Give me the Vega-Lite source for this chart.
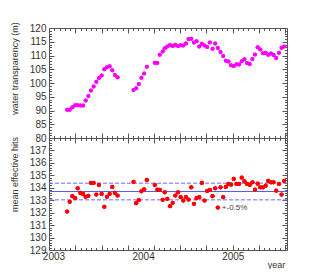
{
  "$schema": "https://vega.github.io/schema/vega-lite/v6.json",
  "autosize": {"type": "pad"},
  "padding": {"left": 9, "top": 21, "right": 0, "bottom": 0},
  "background": "white",
  "config": {
    "view": {"stroke": null},
    "axis": {"grid": false, "domainColor": "#555", "tickColor": "#555", "labelFont": "Liberation Sans", "labelFontSize": 10, "labelColor": "#333", "titleFont": "Liberation Sans", "titleFontSize": 9, "titleFontWeight": "normal", "titleColor": "#333", "labelOverlap": false, "labelBound": false, "labelFlush": false}
  },
  "spacing": 0,
  "bounds": "flush",
  "datasets": {
    "obs": [
      {"year": 2003.152, "transparency": 90.3, "hits": 132.09},
      {"year": 2003.181, "transparency": 90.3, "hits": 132.87},
      {"year": 2003.211, "transparency": 91.2, "hits": 133.32},
      {"year": 2003.241, "transparency": 91.9, "hits": 133.16},
      {"year": 2003.270, "transparency": 91.9, "hits": 133.96},
      {"year": 2003.300, "transparency": 91.8, "hits": 133.59},
      {"year": 2003.330, "transparency": 91.8, "hits": 133.51},
      {"year": 2003.359, "transparency": 93.6, "hits": 133.27},
      {"year": 2003.389, "transparency": 95.3, "hits": 133.35},
      {"year": 2003.418, "transparency": 97.3, "hits": 134.39},
      {"year": 2003.448, "transparency": 98.7, "hits": 134.39},
      {"year": 2003.478, "transparency": 100.5, "hits": 133.45},
      {"year": 2003.507, "transparency": 101.8, "hits": 134.23},
      {"year": 2003.537, "transparency": 102.7, "hits": 133.51},
      {"year": 2003.567, "transparency": 105.0, "hits": 132.47},
      {"year": 2003.596, "transparency": 105.7, "hits": 133.27},
      {"year": 2003.626, "transparency": 106.1, "hits": 133.51},
      {"year": 2003.656, "transparency": 104.6, "hits": 134.07},
      {"year": 2003.685, "transparency": 102.9, "hits": 133.59},
      {"year": 2003.715, "transparency": 102.1, "hits": 133.37},
      {"year": 2003.893, "transparency": 97.5, "hits": 134.47},
      {"year": 2003.922, "transparency": 98.1, "hits": 132.76},
      {"year": 2003.952, "transparency": 99.6, "hits": 133.00},
      {"year": 2003.981, "transparency": 101.9, "hits": 133.72},
      {"year": 2004.011, "transparency": 103.5, "hits": 133.88},
      {"year": 2004.041, "transparency": 105.9, "hits": 134.63},
      {"year": 2004.130, "transparency": 107.4, "hits": 134.23},
      {"year": 2004.159, "transparency": 107.3, "hits": 133.85},
      {"year": 2004.185, "transparency": 110.3, "hits": 133.84},
      {"year": 2004.218, "transparency": 111.5, "hits": 133.03},
      {"year": 2004.241, "transparency": 112.6, "hits": 133.64},
      {"year": 2004.270, "transparency": 113.3, "hits": 133.11},
      {"year": 2004.300, "transparency": 113.8, "hits": 132.52},
      {"year": 2004.330, "transparency": 113.5, "hits": 132.79},
      {"year": 2004.359, "transparency": 113.9, "hits": 133.37},
      {"year": 2004.389, "transparency": 113.5, "hits": 133.64},
      {"year": 2004.419, "transparency": 113.7, "hits": 133.24},
      {"year": 2004.448, "transparency": 113.6, "hits": 132.97},
      {"year": 2004.478, "transparency": 114.4, "hits": 133.24},
      {"year": 2004.507, "transparency": 116.0, "hits": 133.05},
      {"year": 2004.537, "transparency": 116.1, "hits": 134.04},
      {"year": 2004.567, "transparency": 114.7, "hits": 132.71},
      {"year": 2004.596, "transparency": 115.2, "hits": 133.16},
      {"year": 2004.626, "transparency": 113.3, "hits": 133.24},
      {"year": 2004.656, "transparency": 114.3, "hits": 134.39},
      {"year": 2004.685, "transparency": 113.6, "hits": 132.97},
      {"year": 2004.715, "transparency": 113.1, "hits": 133.75},
      {"year": 2004.744, "transparency": 114.7, "hits": 133.83},
      {"year": 2004.774, "transparency": 112.5, "hits": 133.32},
      {"year": 2004.804, "transparency": 114.4, "hits": 133.96},
      {"year": 2004.833, "transparency": 112.7, "hits": 132.41},
      {"year": 2004.863, "transparency": 111.3, "hits": 134.04},
      {"year": 2004.893, "transparency": 109.8, "hits": 133.24},
      {"year": 2004.922, "transparency": 108.1, "hits": 134.07},
      {"year": 2004.952, "transparency": 107.8, "hits": 134.31},
      {"year": 2004.981, "transparency": 106.5, "hits": 134.25},
      {"year": 2005.011, "transparency": 106.2, "hits": 134.71},
      {"year": 2005.041, "transparency": 106.8, "hits": 134.31},
      {"year": 2005.070, "transparency": 106.7, "hits": 134.31},
      {"year": 2005.100, "transparency": 107.9, "hits": 134.81},
      {"year": 2005.130, "transparency": 108.6, "hits": 134.52},
      {"year": 2005.159, "transparency": 107.3, "hits": 134.31},
      {"year": 2005.189, "transparency": 106.9, "hits": 134.23},
      {"year": 2005.219, "transparency": 108.7, "hits": 134.44},
      {"year": 2005.248, "transparency": 110.4, "hits": 133.85},
      {"year": 2005.278, "transparency": 113.0, "hits": 134.33},
      {"year": 2005.307, "transparency": 112.2, "hits": 134.04},
      {"year": 2005.337, "transparency": 110.8, "hits": 134.04},
      {"year": 2005.367, "transparency": 111.0, "hits": 134.17},
      {"year": 2005.396, "transparency": 110.3, "hits": 134.55},
      {"year": 2005.426, "transparency": 110.7, "hits": 134.44},
      {"year": 2005.456, "transparency": 110.2, "hits": 134.44},
      {"year": 2005.485, "transparency": 109.1, "hits": 133.77},
      {"year": 2005.515, "transparency": 111.0, "hits": 134.31},
      {"year": 2005.544, "transparency": 112.8, "hits": 133.45},
      {"year": 2005.574, "transparency": 113.3, "hits": 134.55}
    ],
    "limits": [
      {"level": "mean", "value": 133.70},
      {"level": "upper", "value": 134.37},
      {"level": "lower", "value": 133.03}
    ],
    "notes": [
      {"year": 2004.878, "value": 132.38, "label": "+-0.5%"}
    ]
  },
  "vconcat": [
    {
      "width": 238,
      "height": 110,
      "layer": [
        {
          "data": {"name": "obs"},
          "mark": {"type": "point", "filled": true, "shape": "circle", "size": 16, "color": "#ff00ff", "opacity": 1},
          "encoding": {
            "x": {"field": "year", "type": "quantitative", "scale": {"domain": [2002.95, 2005.605], "nice": false, "zero": false},
              "axis": {"orient": "bottom", "title": null, "labels": false,
                "values": [2003.010,2003.069,2003.127,2003.186,2003.244,2003.302,2003.361,2003.419,2003.478,2003.536,2003.595,2003.653,2003.712,2003.770,2003.828,2003.887,2003.946,2004.004,2004.063,2004.121,2004.180,2004.238,2004.297,2004.355,2004.414,2004.472,2004.531,2004.589,2004.648,2004.706,2004.764,2004.823,2004.881,2004.940,2004.998,2005.057,2005.115,2005.174,2005.232,2005.290,2005.349,2005.407,2005.466,2005.524,2005.583],
                "tickSize": {"condition": {"test": "indexof([2003.244,2003.536,2003.828,2004.121,2004.414,2004.706,2004.998,2005.290,2005.583], datum.value) >= 0", "value": -5}, "value": -2.5}}},
            "y": {"field": "transparency", "type": "quantitative", "scale": {"domain": [80, 120], "nice": false, "zero": false},
              "axis": {"orient": "left", "title": "water transparency (m)", "titleX": -35, "titleY": 40, "titleAngle": -90, "titleAlign": "center", "titleBaseline": "middle",
                "values": [80,81,82,83,84,85,86,87,88,89,90,91,92,93,94,95,96,97,98,99,100,101,102,103,104,105,106,107,108,109,110,111,112,113,114,115,116,117,118,119,120],
                "labelExpr": "datum.value % 5 === 0 ? '' + datum.value : ''", "labelPadding": 8,
                "tickSize": {"condition": {"test": "datum.value % 5 === 0", "value": -5}, "value": -2.5}}}
          }
        },
        {
          "data": {"name": "obs"},
          "mark": {"type": "point", "filled": true, "shape": "circle", "size": 16, "color": "#ff00ff", "opacity": 1},
          "encoding": {
            "x": {"field": "year", "type": "quantitative", "scale": {"domain": [2002.95, 2005.605], "nice": false, "zero": false},
              "axis": {"orient": "top", "title": null, "labels": false,
                "values": [2003.010,2003.069,2003.127,2003.186,2003.244,2003.302,2003.361,2003.419,2003.478,2003.536,2003.595,2003.653,2003.712,2003.770,2003.828,2003.887,2003.946,2004.004,2004.063,2004.121,2004.180,2004.238,2004.297,2004.355,2004.414,2004.472,2004.531,2004.589,2004.648,2004.706,2004.764,2004.823,2004.881,2004.940,2004.998,2005.057,2005.115,2005.174,2005.232,2005.290,2005.349,2005.407,2005.466,2005.524,2005.583],
                "tickSize": {"condition": {"test": "indexof([2003.244,2003.536,2003.828,2004.121,2004.414,2004.706,2004.998,2005.290,2005.583], datum.value) >= 0", "value": -5}, "value": -2.5}}},
            "y": {"field": "transparency", "type": "quantitative", "scale": {"domain": [80, 120], "nice": false, "zero": false},
              "axis": {"orient": "right", "title": null, "labels": false,
                "values": [80,81,82,83,84,85,86,87,88,89,90,91,92,93,94,95,96,97,98,99,100,101,102,103,104,105,106,107,108,109,110,111,112,113,114,115,116,117,118,119,120],
                "tickSize": {"condition": {"test": "datum.value % 5 === 0", "value": -5}, "value": -2.5}}}
          }
        }
      ],
      "resolve": {"axis": {"x": "independent", "y": "independent"}}
    },
    {
      "width": 238,
      "height": 112,
      "layer": [
        {
          "data": {"name": "limits"},
          "transform": [{"filter": "datum.level === 'mean'"}],
          "mark": {"type": "rule", "stroke": "#5a5aff", "strokeWidth": 1.2},
          "encoding": {
            "y": {"field": "value", "type": "quantitative", "scale": {"domain": [129, 138], "nice": false, "zero": false}, "axis": null}
          }
        },
        {
          "data": {"name": "limits"},
          "transform": [{"filter": "datum.level !== 'mean'"}],
          "mark": {"type": "rule", "stroke": "#6a6aff", "strokeWidth": 1, "strokeDash": [4, 2]},
          "encoding": {
            "y": {"field": "value", "type": "quantitative", "scale": {"domain": [129, 138], "nice": false, "zero": false}, "axis": null}
          }
        },
        {
          "data": {"name": "obs"},
          "mark": {"type": "point", "filled": true, "shape": "circle", "size": 18, "color": "#ff0000", "opacity": 1},
          "encoding": {
            "x": {"field": "year", "type": "quantitative", "scale": {"domain": [2002.95, 2005.605], "nice": false, "zero": false},
              "axis": {"orient": "bottom", "title": "year", "titleX": 227, "titleY": 14, "titleAlign": "center", "titleBaseline": "middle",
                "values": [2003,2004,2005,2003.010,2003.069,2003.127,2003.186,2003.244,2003.302,2003.361,2003.419,2003.478,2003.536,2003.595,2003.653,2003.712,2003.770,2003.828,2003.887,2003.946,2004.004,2004.063,2004.121,2004.180,2004.238,2004.297,2004.355,2004.414,2004.472,2004.531,2004.589,2004.648,2004.706,2004.764,2004.823,2004.881,2004.940,2004.998,2005.057,2005.115,2005.174,2005.232,2005.290,2005.349,2005.407,2005.466,2005.524,2005.583],
                "labelExpr": "datum.value % 1 === 0 ? '' + datum.value : ''", "labelPadding": 4,
                "tickOpacity": {"condition": {"test": "datum.value % 1 === 0", "value": 0}, "value": 1},
                "tickSize": {"condition": {"test": "indexof([2003.244,2003.536,2003.828,2004.121,2004.414,2004.706,2004.998,2005.290,2005.583], datum.value) >= 0", "value": -5}, "value": -2.5}}},
            "y": {"field": "hits", "type": "quantitative", "scale": {"domain": [129, 138], "nice": false, "zero": false},
              "axis": {"orient": "left", "title": "mean effective hits", "titleX": -35, "titleY": 36, "titleAngle": -90, "titleAlign": "center", "titleBaseline": "middle",
                "values": [129,129.2,129.4,129.6,129.8,130,130.2,130.4,130.6,130.8,131,131.2,131.4,131.6,131.8,132,132.2,132.4,132.6,132.8,133,133.2,133.4,133.6,133.8,134,134.2,134.4,134.6,134.8,135,135.2,135.4,135.6,135.8,136,136.2,136.4,136.6,136.8,137,137.2,137.4,137.6,137.8,138],
                "labelExpr": "datum.value % 1 === 0 && datum.value < 138 ? '' + datum.value : ''", "labelPadding": 8,
                "tickSize": {"condition": {"test": "datum.value % 1 === 0", "value": -5}, "value": -2.5}}}
          }
        },
        {
          "data": {"name": "obs"},
          "mark": {"type": "point", "filled": true, "shape": "circle", "size": 18, "color": "#ff0000", "opacity": 1},
          "encoding": {
            "x": {"field": "year", "type": "quantitative", "scale": {"domain": [2002.95, 2005.605], "nice": false, "zero": false},
              "axis": {"orient": "top", "title": null, "labels": false,
                "values": [2003.010,2003.069,2003.127,2003.186,2003.244,2003.302,2003.361,2003.419,2003.478,2003.536,2003.595,2003.653,2003.712,2003.770,2003.828,2003.887,2003.946,2004.004,2004.063,2004.121,2004.180,2004.238,2004.297,2004.355,2004.414,2004.472,2004.531,2004.589,2004.648,2004.706,2004.764,2004.823,2004.881,2004.940,2004.998,2005.057,2005.115,2005.174,2005.232,2005.290,2005.349,2005.407,2005.466,2005.524,2005.583],
                "tickSize": {"condition": {"test": "indexof([2003.244,2003.536,2003.828,2004.121,2004.414,2004.706,2004.998,2005.290,2005.583], datum.value) >= 0", "value": -5}, "value": -2.5}}},
            "y": {"field": "hits", "type": "quantitative", "scale": {"domain": [129, 138], "nice": false, "zero": false},
              "axis": {"orient": "right", "title": null, "labels": false,
                "values": [129,129.2,129.4,129.6,129.8,130,130.2,130.4,130.6,130.8,131,131.2,131.4,131.6,131.8,132,132.2,132.4,132.6,132.8,133,133.2,133.4,133.6,133.8,134,134.2,134.4,134.6,134.8,135,135.2,135.4,135.6,135.8,136,136.2,136.4,136.6,136.8,137,137.2,137.4,137.6,137.8,138],
                "tickSize": {"condition": {"test": "datum.value % 1 === 0", "value": -5}, "value": -2.5}}}
          }
        },
        {
          "data": {"name": "notes"},
          "mark": {"type": "text", "align": "left", "baseline": "middle", "fontSize": 8, "color": "#444", "font": "Liberation Sans"},
          "encoding": {
            "x": {"field": "year", "type": "quantitative", "scale": {"domain": [2002.95, 2005.605], "nice": false, "zero": false}, "axis": null},
            "y": {"field": "value", "type": "quantitative", "scale": {"domain": [129, 138], "nice": false, "zero": false}, "axis": null},
            "text": {"field": "label"}
          }
        }
      ],
      "resolve": {"axis": {"x": "independent", "y": "independent"}}
    }
  ]
}
